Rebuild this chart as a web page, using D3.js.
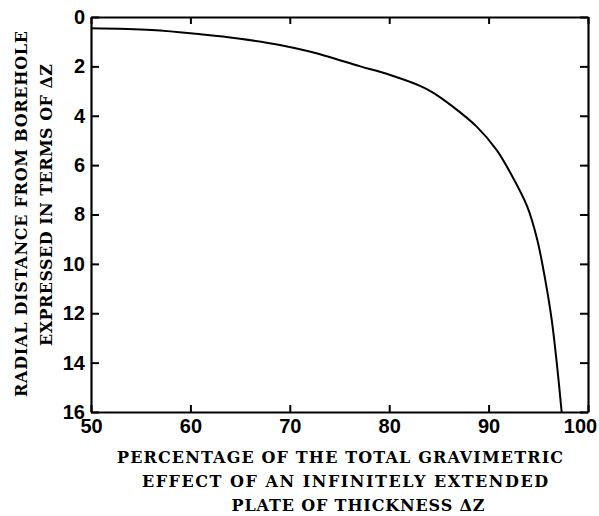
<!DOCTYPE html>
<html><head><meta charset="utf-8">
<script src="https://cdn.jsdelivr.net/npm/d3@7"></script>
<style>body{margin:0;background:#fff}svg{display:block}</style>
</head><body>
<script>
const pct  = [50, 56.1, 61.0, 65.0, 69.0, 72.0, 77.1, 80.1, 83.1, 84.4, 86.4, 88.8, 90.8, 92.2, 93.9, 94.9, 95.7, 96.35, 96.9, 97.35];
const dist = [0.46, 0.53, 0.70, 0.88, 1.13, 1.40, 2.00, 2.35, 2.79, 3.06, 3.63, 4.44, 5.38, 6.32, 7.69, 9.03, 10.65, 12.27, 14.17, 16.0];
const xTicks = [50, 60, 70, 80, 90, 100];
const yTicks = [0, 2, 4, 6, 8, 10, 12, 14, 16];
const yTitle = ["RADIAL DISTANCE FROM BOREHOLE", "EXPRESSED IN TERMS OF ΔZ"];
const xTitle = ["PERCENTAGE OF THE TOTAL GRAVIMETRIC", "EFFECT OF AN INFINITELY EXTENDED", "PLATE OF THICKNESS ΔZ"];

const W = 599, H = 516;
const L = 91, R = 588, T = 17, B = 412;
const svg = d3.select("body").append("svg").attr("width", W).attr("height", H);
const x = d3.scaleLinear().domain([50, 100]).range([L, R]);
const y = d3.scaleLinear().domain([0, 16]).range([T, B]);

const tickFont = "'Liberation Sans', Arial, sans-serif";
const titleFont = "'DejaVu Serif', 'Liberation Serif', serif";

const gb = svg.append("g").attr("transform", `translate(0,${B})`)
  .call(d3.axisBottom(x).tickValues(xTicks).tickSizeInner(-7).tickSizeOuter(0).tickPadding(12));
const gt = svg.append("g").attr("transform", `translate(0,${T})`)
  .call(d3.axisTop(x).tickValues(xTicks).tickSizeInner(-7).tickSizeOuter(0).tickFormat(""));
const gl = svg.append("g").attr("transform", `translate(${L},0)`)
  .call(d3.axisLeft(y).tickValues(yTicks).tickSizeInner(-8).tickSizeOuter(0).tickPadding(14));
const gr = svg.append("g").attr("transform", `translate(${R},0)`)
  .call(d3.axisRight(y).tickValues(yTicks).tickSizeInner(-8).tickSizeOuter(0).tickFormat(""));

[gb, gt, gl, gr].forEach(g => {
  g.select(".domain").attr("stroke", "#000").attr("stroke-width", 2.2);
  g.selectAll(".tick line").attr("stroke", "#000").attr("stroke-width", 2);
  g.selectAll(".tick text").attr("fill", "#000").attr("font-family", tickFont)
    .attr("font-weight", "bold").attr("font-size", 20);
});
gb.selectAll(".tick text").attr("dy", "0.45em")
  .attr("dx", d => d === 100 ? -8 : 0);
gl.selectAll(".tick text").attr("dx", "0.4em");

const pts = pct.map((p, i) => [p, dist[i]]);
svg.append("path").datum(pts)
  .attr("fill", "none").attr("stroke", "#000").attr("stroke-width", 2)
  .attr("d", d3.line().x(d => x(d[0])).y(d => y(d[1])).curve(d3.curveCatmullRom.alpha(0.5)));

const yCenters = [{x: 21, y: 214, len: 366}, {x: 46, y: 205, len: 282}];
yTitle.forEach((t, i) => {
  svg.append("text")
    .attr("transform", `translate(${yCenters[i].x},${yCenters[i].y}) rotate(-90)`)
    .attr("text-anchor", "middle").attr("dominant-baseline", "central")
    .attr("font-family", titleFont).attr("font-weight", "bold").attr("font-size", 16)
    .attr("textLength", yCenters[i].len).attr("lengthAdjust", "spacing")
    .text(t);
});

const xPos = [{x: 340, y: 457, len: 446}, {x: 345, y: 481, len: 406}, {x: 358, y: 505, len: 253}];
xTitle.forEach((t, i) => {
  svg.append("text")
    .attr("x", xPos[i].x).attr("y", xPos[i].y)
    .attr("text-anchor", "middle").attr("dominant-baseline", "central")
    .attr("font-family", titleFont).attr("font-weight", "bold").attr("font-size", 16)
    .attr("textLength", xPos[i].len).attr("lengthAdjust", "spacing")
    .text(t);
});
</script>
</body></html>
